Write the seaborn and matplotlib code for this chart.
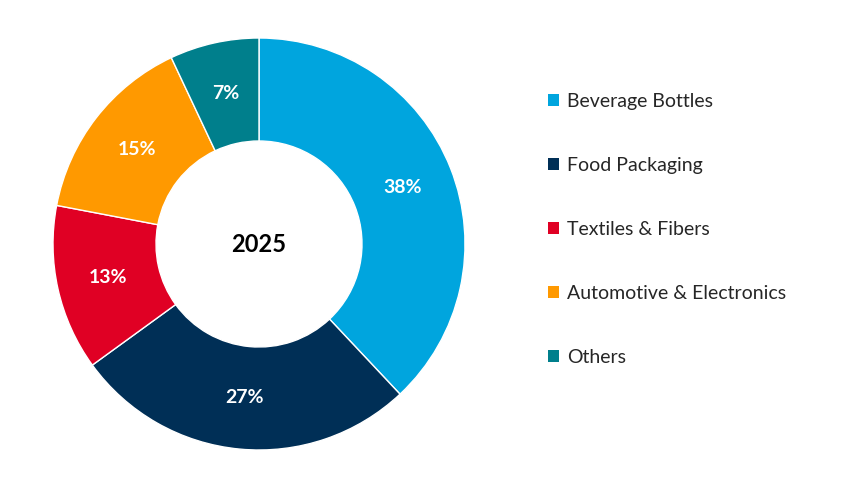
import matplotlib.pyplot as plt
import seaborn as sns
from matplotlib.patches import Patch

sns.set_theme(style="white")
plt.rcParams['font.family'] = ['Lato', 'DejaVu Sans']

categories = ["Beverage Bottles", "Food Packaging", "Textiles & Fibers",
              "Automotive & Electronics", "Others"]
shares = [38, 27, 13, 15, 7]
colors = ["#00A5DE", "#002F56", "#E00024", "#FF9900", "#007F8C"]
center_label = "2025"

fig = plt.figure(figsize=(8.63, 4.87), dpi=100)
ax = fig.add_axes([53 / 863, 37 / 487, 412 / 863, 412 / 487])

wedges, texts, autotexts = ax.pie(
    shares, colors=colors, startangle=90, counterclock=False,
    autopct=lambda p: f"{p:.0f}%", pctdistance=0.75,
    wedgeprops=dict(width=0.5, edgecolor="white", linewidth=1),
    textprops=dict(color="white", fontsize=14, fontweight="bold"))
ax.set_xlim(-1, 1)
ax.set_ylim(-1, 1)
ax.set_aspect("equal")
ax.text(0, 0, center_label, ha="center", va="center", fontsize=17,
        fontweight="bold", color="black")

handles = [Patch(facecolor=c, edgecolor="none") for c in colors]
fig.legend(handles, categories, loc="upper left", bbox_to_anchor=(540 / 863, 1 - 85 / 487),
           frameon=False, fontsize=14, handlelength=0.6, handleheight=0.6,
           handletextpad=0.4, labelspacing=2.42, borderaxespad=0)

fig.savefig("out.png", dpi=100, facecolor="white")
